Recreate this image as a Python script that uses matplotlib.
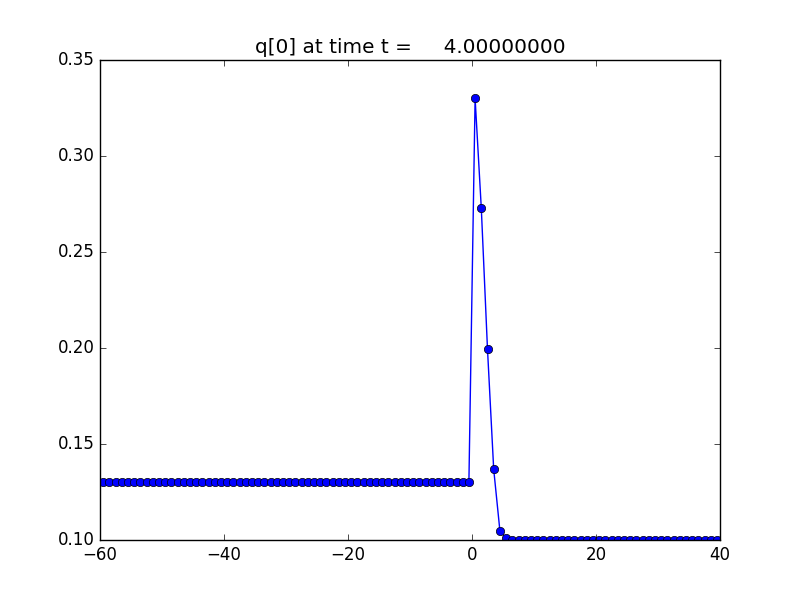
import matplotlib
matplotlib.use("Agg")
import matplotlib.pyplot as plt
import numpy as np

plt.style.use("classic")

# cell centres and q[0] values
x_left = np.arange(-59.5, 0.0, 1.0)
q_left = [0.13] * len(x_left)
x_peak = [0.5, 1.5, 2.5, 3.5, 4.5, 5.5]
q_peak = [0.330, 0.2728, 0.1993, 0.1368, 0.1048, 0.1009]
x_right = np.arange(6.5, 40.0, 1.0)
q_right = [0.1] * len(x_right)

x = np.concatenate([x_left, x_peak, x_right])
q = np.concatenate([q_left, q_peak, q_right])

fig = plt.figure(figsize=(8, 6), dpi=100)
ax = fig.add_subplot(111)
ax.plot(x, q, "bo-")
ax.set_xlim(-60, 40)
ax.set_ylim(0.10, 0.35)
ax.set_title("q[0] at time t =     4.00000000")

fig.savefig("out.png", dpi=100)
